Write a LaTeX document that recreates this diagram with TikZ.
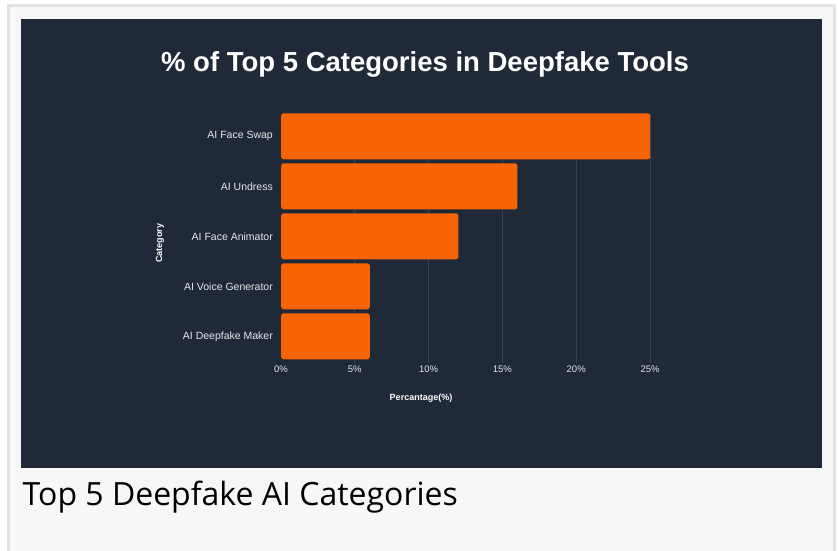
\documentclass[tikz,border=0pt]{standalone}
\usepackage{fontspec}
\setmainfont{Liberation Sans}
\newfontfamily\captionfont{Open Sans}
\usetikzlibrary{positioning}
\definecolor{pagebg}{HTML}{F7F7F7}
\definecolor{bordergray}{HTML}{E3E3E3}
\definecolor{panelbg}{HTML}{1F2937}
\definecolor{barorange}{HTML}{F86304}
\definecolor{gridgray}{HTML}{374151}
\definecolor{labelgray}{HTML}{E5E7EB}
\tikzset{%
	% Specifications for style of chart parts:
	bar/.style = {rectangle, fill=barorange, rounded corners=2.5pt,
		minimum height=46pt, anchor=west, inner sep=0pt},
	gridline/.style = {draw=gridgray, line width=0.8pt},
	catlabel/.style = {text=labelgray, inner sep=0pt,
		font=\fontsize{10.5}{12}\selectfont},
	ticklabel/.style = {text=labelgray, inner sep=2pt,
		font=\fontsize{9.5}{11}\selectfont},
	axistitle/.style = {text=white, font=\fontsize{9}{11}\selectfont\bfseries},
}

\begin{document}
\begin{tikzpicture}[x=1pt, y=-1pt]
	\useasboundingbox (0,0) rectangle (838,550);
	% Page, frame and dark chart panel
	\fill[white] (0,0) rectangle (838,550);
	\draw[bordergray, line width=3pt, fill=pagebg] (8.5,5.5) rectangle (834.5,560);
	\fill[panelbg] (21,19) rectangle (822,468);
	\node (title) [text=white, font=\fontsize{27.5}{32}\selectfont\bfseries] at (425,64.5)
		{\% of Top 5 Categories in Deepfake Tools};
	% Ticks of the value axis
	\node (t0)  [ticklabel] at (281,369)   {0\%};
	\node (t5)  [ticklabel] at (354.8,369) {5\%};
	\node (t10) [ticklabel] at (428.6,369) {10\%};
	\node (t15) [ticklabel] at (502.4,369) {15\%};
	\node (t20) [ticklabel] at (576.2,369) {20\%};
	\node (t25) [ticklabel] at (650,369)   {25\%};
	\coordinate (gridtop) at (281,113.3);
	\draw[gridline] (t5.north)  -- (t5.north |- gridtop);
	\draw[gridline] (t10.north) -- (t10.north |- gridtop);
	\draw[gridline] (t15.north) -- (t15.north |- gridtop);
	\draw[gridline] (t20.north) -- (t20.north |- gridtop);
	\draw[gridline] (t25.north) -- (t25.north |- gridtop);
	% Bars (1% = 14.76pt)
	\node (faceswap)  [bar, minimum width=369pt]   at (281,136.3) {};
	\node (undress)   [bar, minimum width=236.2pt] at (281,186.3) {};
	\node (animator)  [bar, minimum width=177.1pt] at (281,236.3) {};
	\node (voicegen)  [bar, minimum width=88.6pt]  at (281,286.3) {};
	\node (fakemaker) [bar, minimum width=88.6pt]  at (281,336.3) {};
	\node [catlabel, left=8pt of faceswap]  {AI Face Swap};
	\node [catlabel, left=8pt of undress]   {AI Undress};
	\node [catlabel, left=8pt of animator]  {AI Face Animator};
	\node [catlabel, left=8pt of voicegen]  {AI Voice Generator};
	\node [catlabel, left=8pt of fakemaker] {AI Deepfake Maker};
	% Axis titles
	\node (xtitle) [axistitle] at (421,398.3) {Percantage(\%)};
	\node (ytitle) [axistitle, rotate=90] at (160,243) {Category};
	% Caption below the panel
	\node (caption) [anchor=base west, inner sep=0pt, text=black,
		font=\captionfont\fontsize{32}{38}\selectfont] at (22.5,505)
		{Top 5 Deepfake AI Categories};
\end{tikzpicture}
\end{document}
